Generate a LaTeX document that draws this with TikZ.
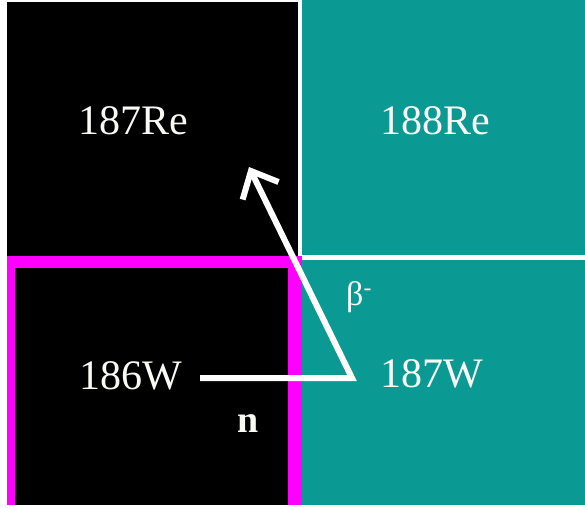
\documentclass[tikz,border=0pt]{standalone}
\usepackage{fontspec}
\setmainfont{Liberation Serif}
\usetikzlibrary{arrows.meta}
\definecolor{tealcell}{RGB}{11,153,148}
\definecolor{magborder}{RGB}{255,0,255}
\definecolor{labelwhite}{RGB}{250,250,245}
\begin{document}
\begin{tikzpicture}[x=1pt,y=-1pt,
  lbl/.style={text=labelwhite,inner sep=0pt,anchor=base west,font=\fontsize{42}{50}\selectfont},
  small/.style={text=labelwhite,inner sep=0pt,anchor=base west,font=\fontsize{34}{40}\selectfont},
  reaction/.style={draw=white,line width=6pt,line join=miter}]
\useasboundingbox (0,0) rectangle (585,507);
\fill[white] (0,0) rectangle (585,507);
% cells
\fill[black] (7,2) rectangle (299,257);
\fill[tealcell] (299,0) rectangle (585,257);
\fill[tealcell] (299,257) rectangle (585,505);
\fill[magborder] (7,256) rectangle (302,505);
\fill[black] (15,268) rectangle (288,505);
% grid lines
\draw[white,line width=4pt] (299.5,0) -- (299.5,256);
\draw[white,line width=5pt] (302,257.5) -- (585,257.5);
% labels
\node[lbl] (re187) at (78,134) {187Re};
\node[lbl] (re188) at (380,134) {188Re};
\node[lbl] (w186) at (79,389) {186W};
\node[lbl] (w187) at (380,387) {187W};
\node[small] (beta) at (346,305) {β\textsuperscript{-}};
\node[text=labelwhite,inner sep=0pt,anchor=base west,font=\fontsize{38}{44}\selectfont\bfseries] (nlab) at (237,432) {n};
% reaction path
\coordinate (nstart) at (200,378);
\coordinate (corner) at (352,378);
\coordinate (tip) at (249,167);
\draw[reaction,-{Straight Barb[length=22pt,width=40pt]}] (nstart) -- (corner) -- (tip);
\end{tikzpicture}
\end{document}
